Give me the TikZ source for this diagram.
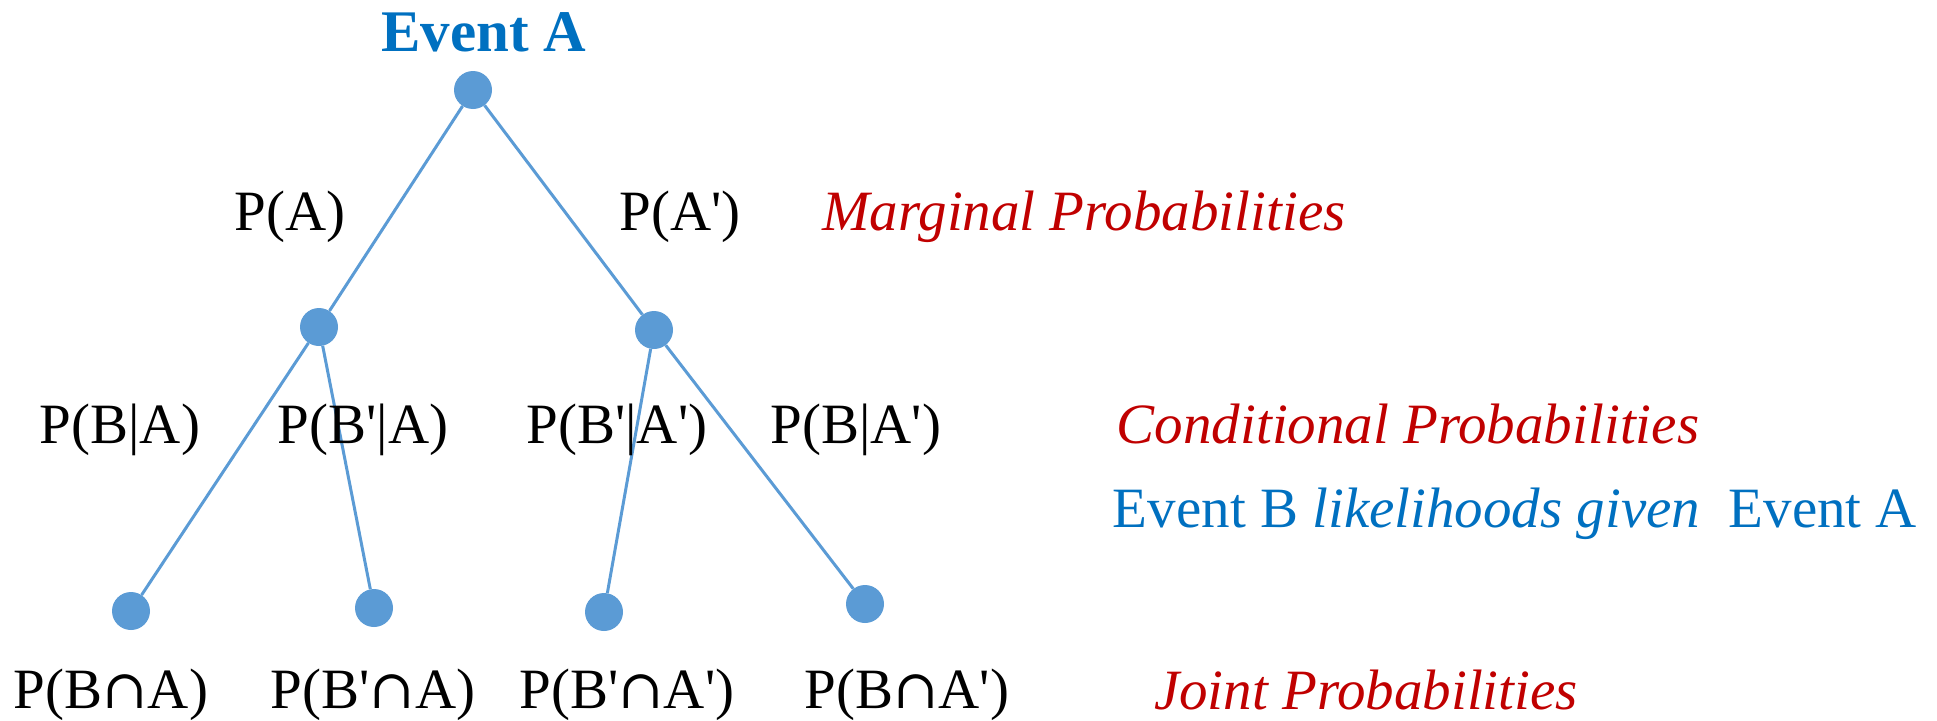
\documentclass[tikz,border=0pt]{standalone}
\usepackage{fontspec}
\setmainfont{Liberation Serif}[Ligatures=TeXOff]
\newfontfamily\capfont{DejaVu Serif}
\newcommand{\mycap}{{\capfont\fontsize{54}{68}\selectfont ∩}}
\definecolor{linkblue}{HTML}{5B9BD5}
\definecolor{textblue}{HTML}{0070C0}
\definecolor{textred}{HTML}{C00000}
\tikzset{
  dot/.style={circle,fill=linkblue,minimum size=38pt,inner sep=0pt},
  edge/.style={draw=linkblue,line width=3pt},
  lab/.style={anchor=base,inner sep=0pt,font=\fontsize{57}{68}\selectfont},
  redlab/.style={lab,text=textred,font=\fontsize{57}{68}\selectfont\itshape},
  bluelab/.style={lab,text=textblue}
}
\begin{document}
\begin{tikzpicture}[x=1pt,y=-1pt]
\useasboundingbox (0,0) rectangle (1937,720);
% nodes
\node[dot] (r) at (473,90) {};
\node[dot] (a) at (319,327) {};
\node[dot] (b) at (654,330) {};
\node[dot] (l1) at (131,611) {};
\node[dot] (l2) at (374,608) {};
\node[dot] (l3) at (604,612) {};
\node[dot] (l4) at (865,604) {};
% edges
\draw[edge] (r) -- (a);
\draw[edge] (r) -- (b);
\draw[edge] (a) -- (l1);
\draw[edge] (a) -- (l2);
\draw[edge] (b) -- (l3);
\draw[edge] (b) -- (l4);
% title
\node[lab,text=textblue,font=\fontsize{59}{70}\selectfont\bfseries] (title) at (484,51) {Event A};
% marginal
\node[lab] (pa) at (290,230) {P(A)};
\node[lab] (pna) at (680,230) {P(A')};
\node[redlab] (marg) at (1084,230) {Marginal Probabilities};
% conditional
\node[lab] (c1) at (120,443) {P(B|A)};
\node[lab] (c2) at (363,443) {P(B'|A)};
\node[lab] (c3) at (617,443) {P(B'|A')};
\node[lab] (c4) at (856,443) {P(B|A')};
\node[redlab] (cond) at (1408,443) {Conditional Probabilities};
\node[bluelab] (like) at (1515,527) {Event B \textit{likelihoods given}~ Event A};
% joint
\node[lab] (j1) at (111,708) {P(B\mycap A)};
\node[lab] (j2) at (373,708) {P(B'\mycap A)};
\node[lab] (j3) at (627,708) {P(B'\mycap A')};
\node[lab] (j4) at (907,708) {P(B\mycap A')};
\node[redlab] (joint) at (1366,709) {Joint Probabilities};
\end{tikzpicture}
\end{document}
